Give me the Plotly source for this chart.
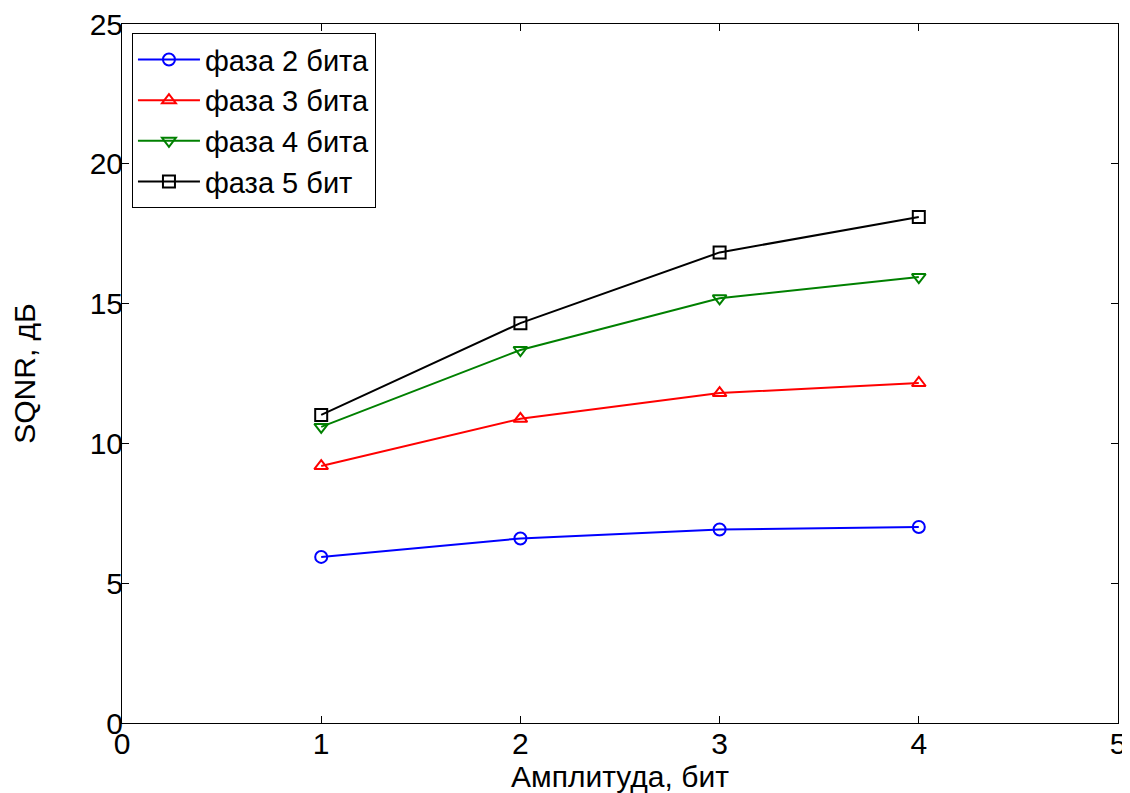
import plotly.graph_objects as go

x_vals = [1, 2, 3, 4]
phase2 = [5.94, 6.6, 6.92, 7.01]
phase3 = [9.19, 10.88, 11.8, 12.16]
phase4 = [10.59, 13.34, 15.19, 15.95]
phase5 = [11.02, 14.3, 16.83, 18.1]
names = ["фаза 2 бита", "фаза 3 бита", "фаза 4 бита", "фаза 5 бит"]
colors = ["#0000ff", "#ff0000", "#008000", "#000000"]
symbols = ["circle-open", "triangle-up-open", "triangle-down-open", "square-open"]
series = [phase2, phase3, phase4, phase5]

FONT = "Liberation Sans, Arial"
FS = 30
fig = go.Figure()
for y, n, c, s in zip(series, names, colors, symbols):
    fig.add_trace(go.Scatter(x=x_vals, y=y, name=n, mode="lines+markers",
                             line=dict(color=c, width=2),
                             marker=dict(symbol=s, size=12, color=c, line=dict(width=2, color=c))))

axis_common = dict(showline=True, linecolor="black", linewidth=1, mirror="allticks",
                   ticks="inside", ticklen=7, tickcolor="black", showgrid=False, zeroline=False,
                   automargin=False, ticklabeloverflow="allow",
                   tickfont=dict(family=FONT, size=FS, color="black"))
fig.update_xaxes(range=[0, 5], dtick=1, ticklabelstandoff=-6,
                 title=dict(text="Амплитуда, бит", standoff=0,
                 font=dict(family=FONT, size=FS, color="black")), **axis_common)
fig.update_yaxes(range=[0, 25], dtick=5, ticklabelstandoff=-8,
                 title=dict(text="SQNR, дБ", standoff=49,
                 font=dict(family=FONT, size=FS, color="black")), **axis_common)

fig.update_layout(
    width=1122, height=785,
    margin=dict(l=114, r=12, t=16, b=70, autoexpand=False),
    paper_bgcolor="white", plot_bgcolor="white",
    showlegend=True,
    legend=dict(x=0.01, y=0.987, xanchor="left", yanchor="top",
                bgcolor="white", bordercolor="black", borderwidth=1,
                font=dict(family=FONT, size=29, color="black"),
                tracegroupgap=0, itemwidth=62),
)
fig.write_html("out.html")
